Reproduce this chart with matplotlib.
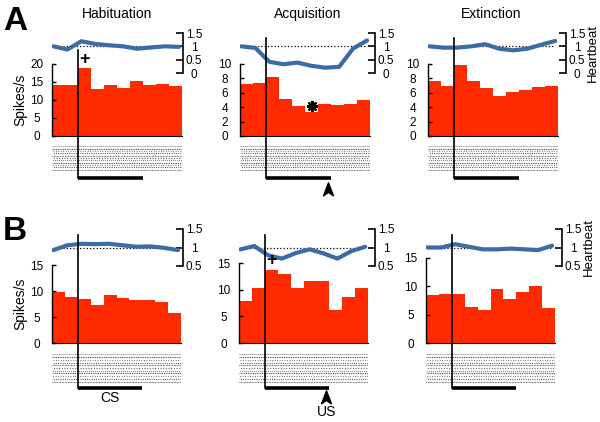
import numpy as np
import matplotlib.pyplot as plt
from matplotlib.lines import Line2D
from matplotlib.path import Path
from matplotlib.transforms import Affine2D

plt.rcParams['font.family'] = ['Liberation Sans', 'DejaVu Sans']

W, H = 600, 422
red = '#ff2a00'
blue = '#3b6ca6'

phases = ['Habituation', 'Acquisition', 'Extinction']
bins = np.arange(10)
hb_t = np.arange(10)
cs_onset = 2
cs_len = 5

# spikes/s per bin (row A / row B)
spk_a_hab = [14.1, 14.1, 18.9, 13.1, 14.3, 13.3, 15.3, 14.2, 14.5, 13.8]
spk_a_acq = [7.2, 7.3, 8.2, 5.1, 4.2, 3.35, 4.45, 4.35, 4.45, 4.95]
spk_a_ext = [7.6, 7.0, 9.9, 7.6, 6.6, 5.55, 6.15, 6.4, 6.8, 6.9]
spk_b_hab = [9.85, 8.9, 8.45, 7.3, 9.2, 8.75, 8.25, 8.3, 7.8, 5.85]
spk_b_acq = [7.8, 10.25, 13.75, 12.9, 10.25, 11.7, 11.7, 6.15, 8.6, 10.25]
spk_b_ext = [8.4, 8.7, 8.6, 6.35, 5.8, 9.45, 7.8, 9.05, 10.0, 6.25]

# normalised heartbeat
hb_a_hab = [1.0, 0.88, 1.19, 1.09, 1.04, 1.0, 0.91, 0.96, 1.0, 0.98]
hb_a_acq = [1.0, 0.94, 0.42, 0.33, 0.39, 0.27, 0.2, 0.23, 0.92, 1.22]
hb_a_ext = [1.0, 0.95, 0.95, 1.0, 1.08, 0.91, 0.85, 0.91, 1.06, 1.2]
hb_b_hab = [0.93, 1.06, 1.1, 1.09, 1.1, 1.06, 1.02, 1.03, 0.99, 0.93]
hb_b_acq = [0.95, 1.04, 0.79, 0.7, 0.85, 0.95, 0.84, 0.7, 0.9, 1.02]
hb_b_ext = [1.0, 1.0, 1.09, 1.02, 0.95, 0.95, 0.97, 0.95, 0.93, 1.05]

spk_ticks = [[0, 5, 10, 15, 20], [0, 2, 4, 6, 8, 10], [0, 2, 4, 6, 8, 10]]
hb_ticks_a = [0, 0.5, 1, 1.5]
hb_ticks_b = [0.5, 1, 1.5]

fig = plt.figure(figsize=(W / 100, H / 100), dpi=100)
pix = Affine2D().scale(1 / W, -1 / H).translate(0, 1) + fig.transFigure


def rect(l, t, r, b):
    return [l / W, 1 - b / H, (r - l) / W, (b - t) / H]


arrow = Path([(0, 1), (0.65, -0.7), (0, -0.25), (-0.65, -0.7), (0, 1)],
             [Path.MOVETO, Path.LINETO, Path.LINETO, Path.LINETO, Path.CLOSEPOLY])


def panel(left, right, spine, bar_t, bar_b, hb_t0, hb_b0, ras_t, ras_b,
          cs_top, cs_y, spk, ticks, hb, hb_lim, hb_ticks, first, last):
    binw = (right - left) / 10.

    # heartbeat trace
    ah = fig.add_axes(rect(left, hb_t0, spine, hb_b0))
    ah.patch.set_visible(False)
    ah.plot([0, 9], [1, 1], ':', color='k', lw=0.9, zorder=1)
    ah.plot(hb_t, hb, color=blue, lw=3, solid_capstyle='round', zorder=2)
    ah.set_xlim(-0.1, 9 * (spine - left) / (right - 3 - left))
    ah.set_ylim(*hb_lim)
    for s in ['left', 'top', 'bottom']:
        ah.spines[s].set_visible(False)
    ah.spines['right'].set_linewidth(1.2)
    ah.set_xticks([])
    ah.yaxis.tick_right()
    ah.set_yticks(hb_ticks)
    ah.set_yticklabels([('%g' % v) for v in hb_ticks])
    ah.tick_params(axis='y', direction='in', length=5, width=1.2, pad=8,
                   labelsize=8.5)
    for lb in ah.get_yticklabels():
        lb.set_ha('center')
    if last:
        ah.yaxis.set_label_position('right')
        ah.set_ylabel('Heartbeat', fontsize=9.5, labelpad=1)

    # firing rate histogram
    ab = fig.add_axes(rect(left, bar_t, right, bar_b))
    ab.patch.set_visible(False)
    ab.bar(bins, spk, width=1, align='edge', color=red, lw=0)
    ab.set_xlim(0, 10)
    ab.set_ylim(ticks[0], ticks[-1])
    ab.spines['top'].set_visible(False)
    ab.spines['right'].set_visible(False)
    ab.spines['left'].set_linewidth(1.0)
    ab.spines['bottom'].set_linewidth(0.8)
    ab.set_xticks([])
    ab.set_yticks(ticks)
    ab.tick_params(axis='y', direction='in', length=3, width=1.0, pad=11,
                   labelsize=8.5)
    for lb in ab.get_yticklabels():
        lb.set_ha('center')
    if first:
        ab.set_ylabel('Spikes/s', fontsize=10, labelpad=2)

    # raster texture
    ar = fig.add_axes(rect(left, ras_t, right, ras_b))
    ar.axis('off')
    ar.set_xlim(0, 10)
    nrow = 11
    ar.set_ylim(-0.5, nrow - 0.5)
    for k in range(nrow):
        ar.hlines(k, 0, 10, colors='0.25', lw=0.8,
                  linestyles=(k * 0.7, (0.6 + 0.2 * (k % 2),
                                        0.8 + 0.4 * (k % 3))))

    # CS marker
    x0 = left + cs_onset * binw
    x1 = x0 + cs_len * binw
    fig.add_artist(Line2D([x0, x0], [cs_top, cs_y], color='k', lw=1.2,
                          transform=pix))
    fig.add_artist(Line2D([x0, x1], [cs_y, cs_y], color='k', lw=2.6,
                          transform=pix, solid_capstyle='butt'))
    return ab, x0, x1


cols_a = [(52, 182, 183), (240, 370, 375), (428, 558, 566)]
cols_b = [(52, 181, 183), (239, 368, 375), (426, 555, 562)]
spk_a = [spk_a_hab, spk_a_acq, spk_a_ext]
spk_b = [spk_b_hab, spk_b_acq, spk_b_ext]
hb_a = [hb_a_hab, hb_a_acq, hb_a_ext]
hb_b = [hb_b_hab, hb_b_acq, hb_b_ext]
top_b = [265, 263, 258]
b_ticks = [0, 5, 10, 15]

axa, axb = [], []
for i in range(3):
    l, r, s = cols_a[i]
    res = panel(l, r, s, 64, 136, 33, 73, 145, 171, 50 if i == 0 else 38, 178,
                spk_a[i], spk_ticks[i], hb_a[i], (0, 1.5), hb_ticks_a,
                i == 0, i == 2)
    axa.append(res)
    l, r, s = cols_b[i]
    res = panel(l, r, s, top_b[i], 343, 229, 266, 353, 383, 235, 388,
                spk_b[i], b_ticks, hb_b[i], (0.5, 1.5), hb_ticks_b,
                i == 0, i == 2)
    axb.append(res)

# significance marks
axa[0][0].text(2.5, 18.8, '+', ha='center', va='bottom', fontsize=13,
               fontweight='bold', clip_on=False)
axa[1][0].plot([5.5], [4.15], marker=(8, 2, 0), ms=8, mew=1.6, color='k')
axb[1][0].text(2.5, 13.9, '+', ha='center', va='bottom', fontsize=13,
               fontweight='bold', clip_on=False)

# US arrows
for res, y in [(axa[1], 190), (axb[1], 398)]:
    xu = res[2] - 3
    fig.add_artist(Line2D([xu], [y], marker=arrow, markersize=11, color='k',
                          lw=0, transform=pix))
fig.text(axb[1][2] - 3, 412, 'US', transform=pix, ha='center', va='center',
         fontsize=10)
fig.text((axb[0][1] + axb[0][2]) / 2, 398, 'CS', transform=pix, ha='center',
         va='center', fontsize=10)

# titles and panel letters
for x, t in zip([117, 308, 491], phases):
    fig.text(x, 14, t, transform=pix, ha='center', va='center', fontsize=10)
fig.text(15, 21, 'A', transform=pix, ha='center', va='center', fontsize=24,
         fontweight='bold')
fig.text(15, 232, 'B', transform=pix, ha='center', va='center', fontsize=24,
         fontweight='bold')

fig.savefig('out.png', dpi=100)
